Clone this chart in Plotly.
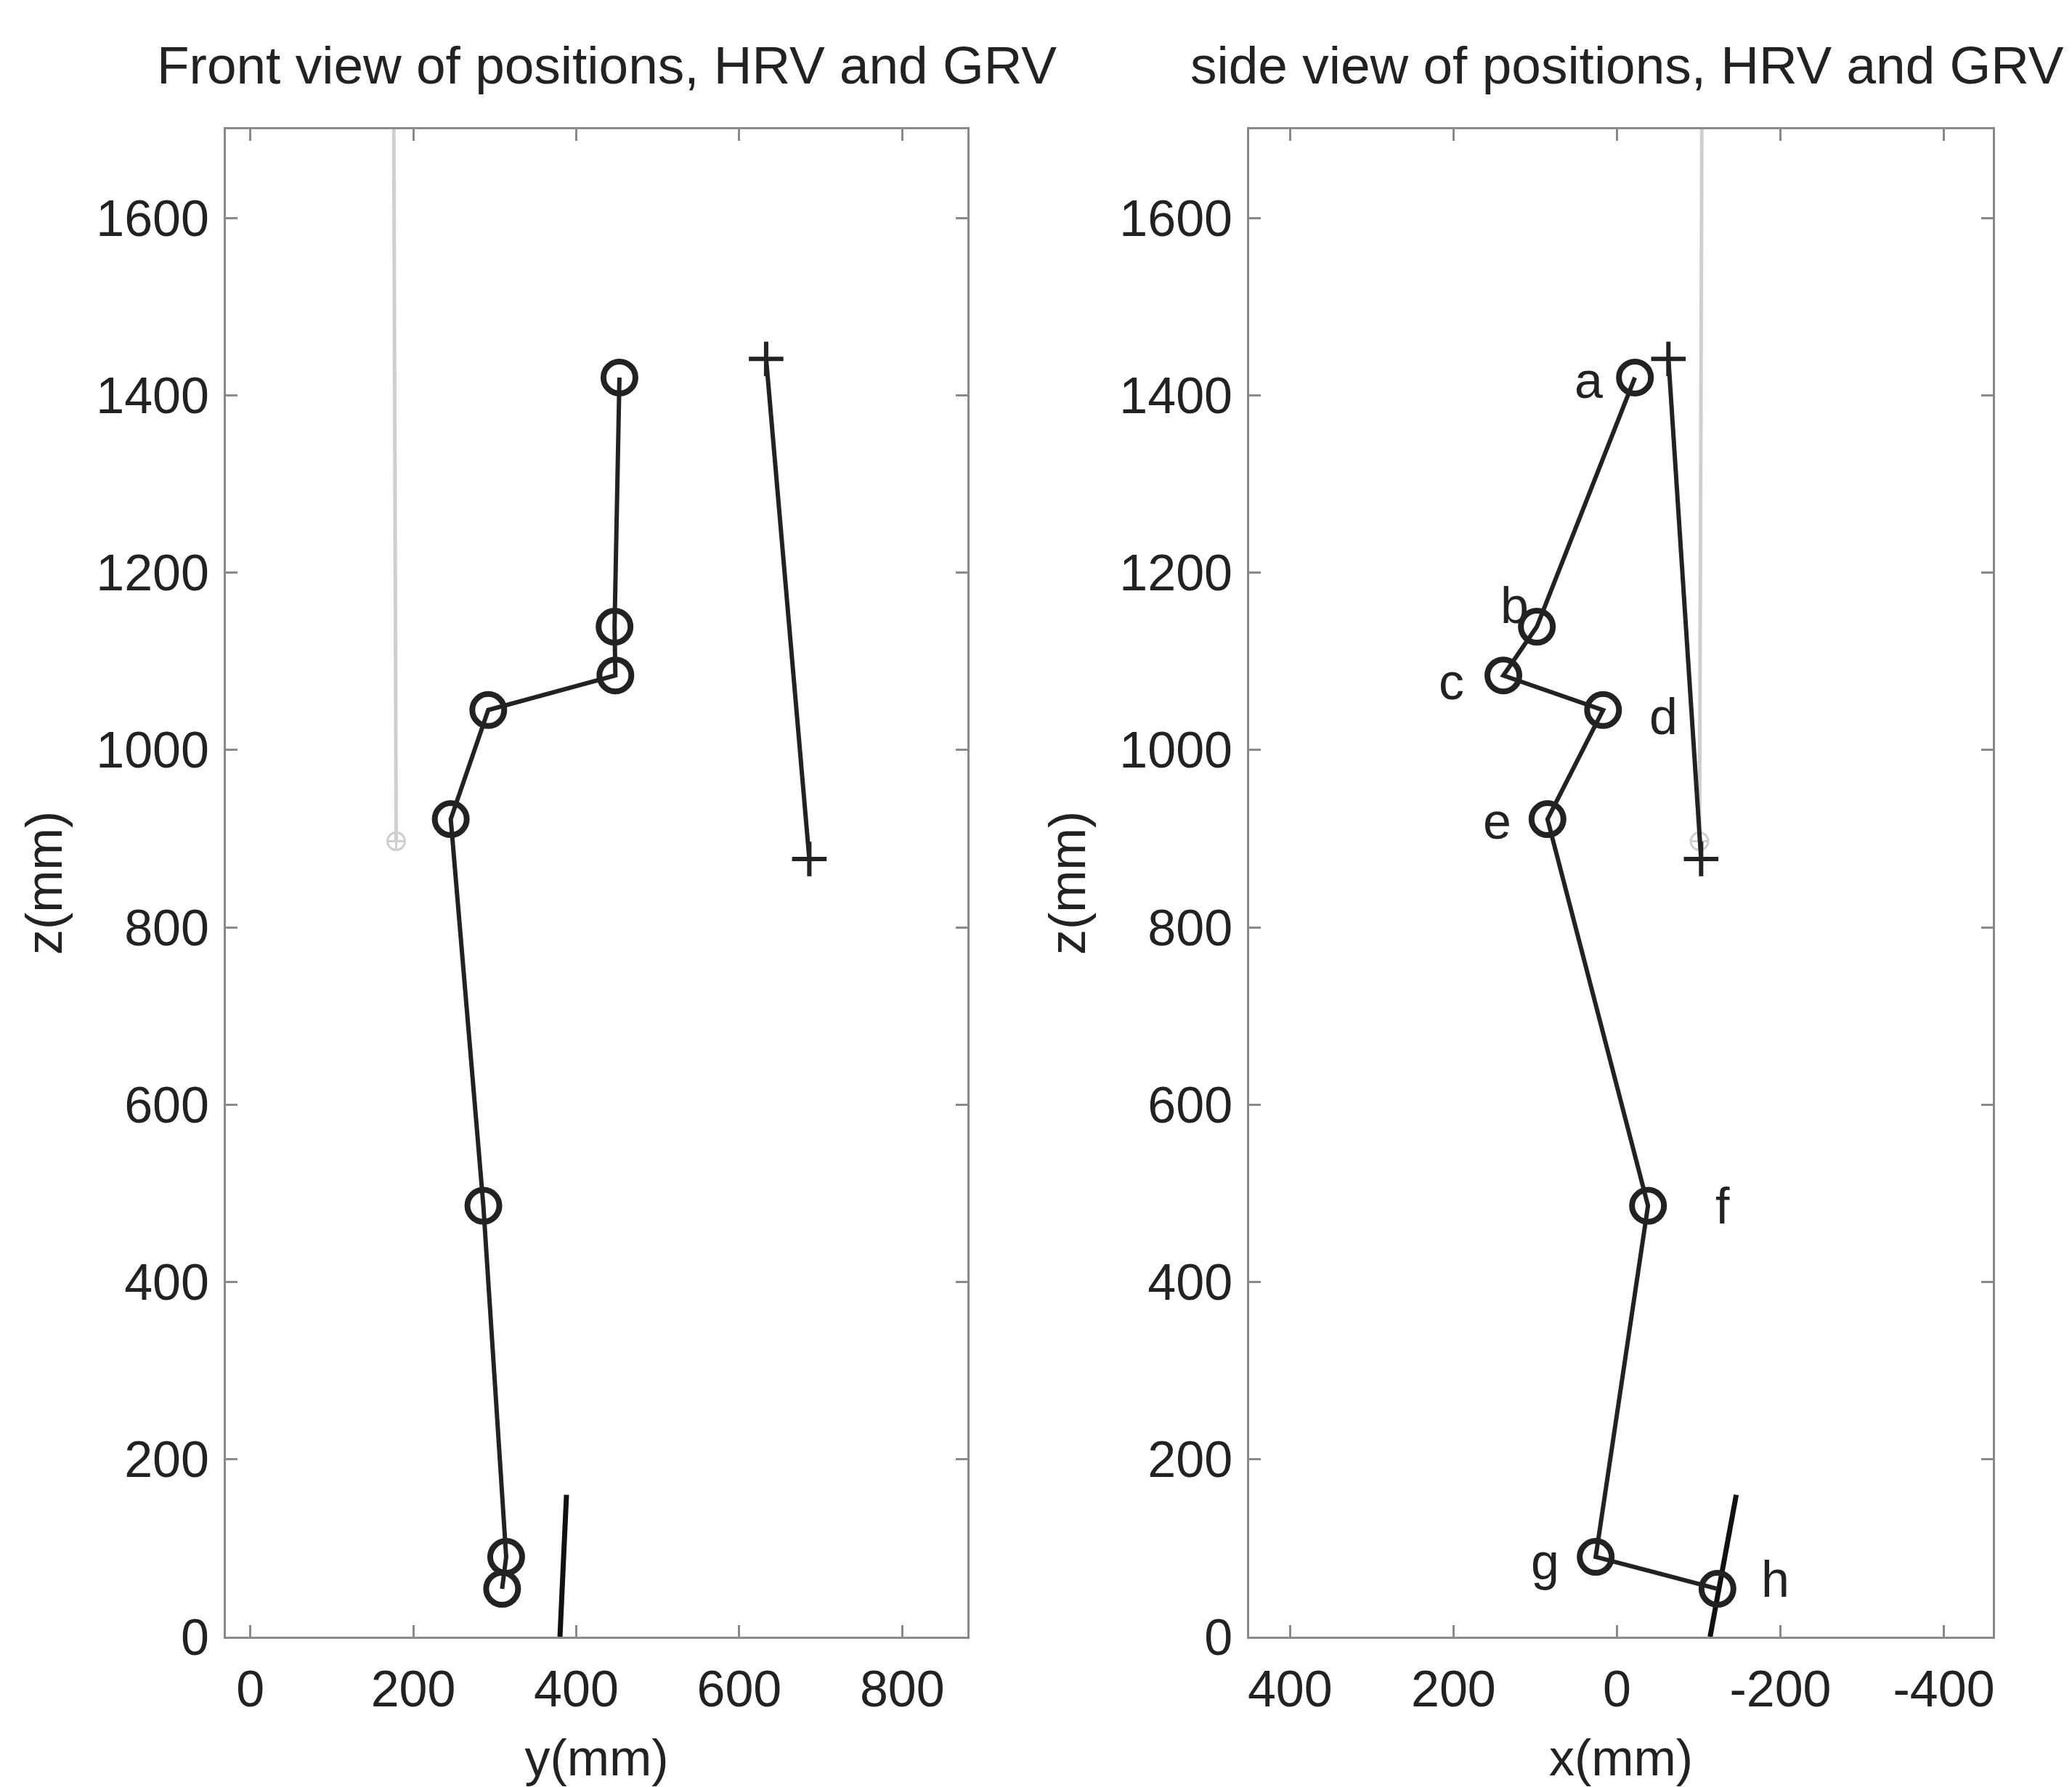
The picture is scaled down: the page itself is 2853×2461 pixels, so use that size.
import plotly.graph_objects as go

# ---------------- data (mm) ----------------
point_labels = ["a", "b", "c", "d", "e", "f", "g", "h"]
pos_z = [1420, 1139, 1084, 1045, 922, 486, 90, 54]      # vertical
pos_y = [453, 447, 448, 292, 246, 286, 314, 309]        # front view horizontal
pos_x = [-22, 98, 139, 17, 85, -38, 26, -123]           # side view horizontal

hrv_z = [1441, 877]
hrv_y = [633, 686]
hrv_x = [-63, -103]

grv_z = [160, 0]
grv_y = [388, 380]
grv_x = [-146, -114]

ref_z = [1728, 897]
ref_y = [176, 179]
ref_x = [-104, -101]

z_ticks = [0, 200, 400, 600, 800, 1000, 1200, 1400, 1600]
y_ticks = [0, 200, 400, 600, 800]
x_ticks = [400, 200, 0, -200, -400]

# ---------------- styles ----------------
INK = "#222222"
AX = "#8a8a8a"
GRAY = "#cfcfcf"
FONT = "Liberation Sans, Arial, sans-serif"
label_dx = [-64, -31, -72, 83, -69, 103, -70, 80]
label_dy = [-4, 29, -9, -9, -3, 0, -7, 13]

fig = go.Figure()

def add_view(front, xa, ya):
    h = pos_y if front else pos_x
    rx = ref_y if front else ref_x
    hx = hrv_y if front else hrv_x
    gx = grv_y if front else grv_x
    fig.add_trace(go.Scatter(x=rx, y=ref_z, mode="lines",
                             line=dict(color=GRAY, width=5), xaxis=xa, yaxis=ya,
                             showlegend=False, hoverinfo="skip"))
    fig.add_trace(go.Scatter(x=[rx[-1]], y=[ref_z[-1]], mode="markers",
                             marker=dict(symbol="circle-cross-open", size=24, color=GRAY,
                                         line=dict(width=3, color=GRAY)),
                             xaxis=xa, yaxis=ya, showlegend=False, cliponaxis=False))
    fig.add_trace(go.Scatter(x=hx, y=hrv_z, mode="lines+markers",
                             line=dict(color=INK, width=6),
                             marker=dict(symbol="cross-thin-open", size=34, color=INK,
                                         line=dict(width=6, color=INK)),
                             xaxis=xa, yaxis=ya, showlegend=False, cliponaxis=False))
    fig.add_trace(go.Scatter(x=gx, y=grv_z, mode="lines",
                             line=dict(color="#111111", width=7),
                             xaxis=xa, yaxis=ya, showlegend=False))
    fig.add_trace(go.Scatter(x=h, y=pos_z, mode="lines+markers",
                             line=dict(color=INK, width=6),
                             marker=dict(symbol="circle-open", size=44, color=INK,
                                         line=dict(width=8, color=INK)),
                             xaxis=xa, yaxis=ya, showlegend=False, cliponaxis=False))

add_view(True, "x", "y")
add_view(False, "x2", "y2")

for lab, xv, zv, dx, dy in zip(point_labels, pos_x, pos_z, label_dx, label_dy):
    fig.add_annotation(x=xv, y=zv, xref="x2", yref="y2", text=lab, showarrow=False,
                       xshift=dx, yshift=dy, font=dict(size=70, color=INK, family=FONT))

axis_common = dict(showgrid=False, zeroline=False, showline=True, linecolor=AX, linewidth=3,
                   mirror="ticks", ticks="inside", ticklen=16, tickwidth=3, tickcolor=AX,
                   tickfont=dict(size=70, color=INK, family=FONT), automargin=False)

title_font = dict(size=70, color=INK, family=FONT)
ydom = [0.0841, 0.9277]
fig.update_layout(
    width=2853, height=2461,
    margin=dict(l=0, r=0, t=0, b=0),
    paper_bgcolor="white", plot_bgcolor="white",
    xaxis=dict(domain=[0.109, 0.4669], range=[-30, 880], tickvals=y_ticks, anchor="y",
               title=dict(text="y(mm)", font=title_font, standoff=32),
               ticklabelstandoff=9, **axis_common),
    yaxis=dict(domain=ydom, range=[0, 1700], tickvals=z_ticks, anchor="x",
               title=dict(text="z(mm)", font=title_font, standoff=24),
               ticklabelstandoff=6, **axis_common),
    xaxis2=dict(domain=[0.6029, 0.9618], range=[450, -460], tickvals=x_ticks,
                ticktext=[str(v) for v in x_ticks], anchor="y2",
                title=dict(text="x(mm)", font=title_font, standoff=32),
                ticklabelstandoff=9, **axis_common),
    yaxis2=dict(domain=ydom, range=[0, 1700], tickvals=z_ticks, anchor="x2",
                title=dict(text="z(mm)", font=title_font, standoff=24),
                ticklabelstandoff=6, **axis_common),
)

fig.add_annotation(text="Front view of positions, HRV and GRV", xref="x domain", yref="y domain",
                   x=0.5, y=1, yanchor="bottom", yshift=46, xshift=14, showarrow=False,
                   font=dict(size=73, color=INK, family=FONT))
fig.add_annotation(text="side view of positions, HRV and GRV", xref="x2 domain", yref="y2 domain",
                   x=0.5, y=1, yanchor="bottom", yshift=46, xshift=8, showarrow=False,
                   font=dict(size=73, color=INK, family=FONT))

fig.write_html("out.html")
